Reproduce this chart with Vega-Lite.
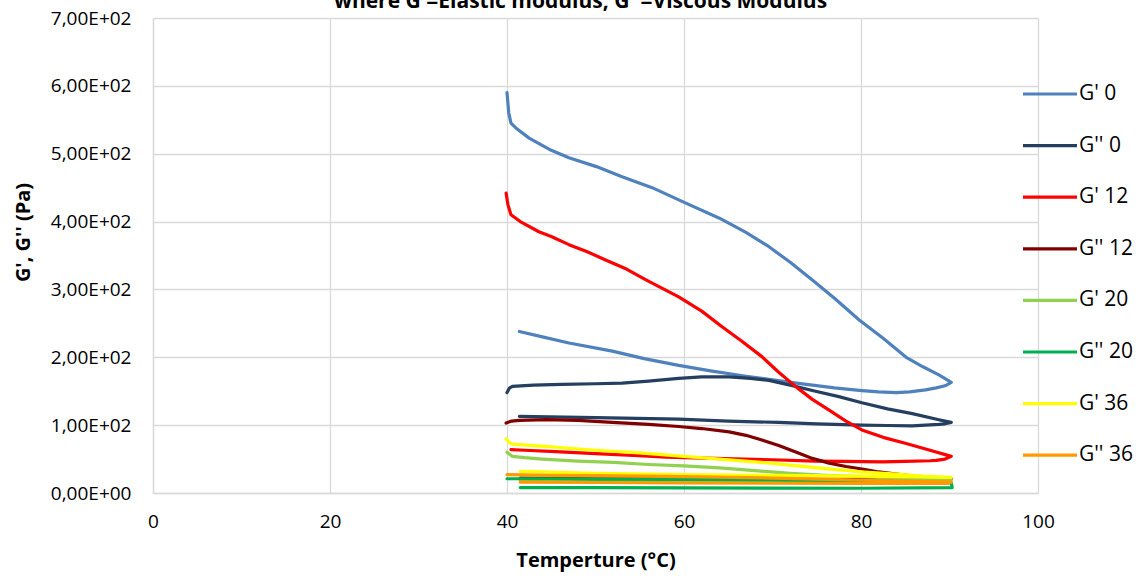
{
  "$schema": "https://vega.github.io/schema/vega-lite/v6.json",
  "width": 885,
  "height": 475,
  "autosize": {"type": "none"},
  "padding": {"left": 153, "top": 18, "right": 109, "bottom": 85},
  "background": "white",
  "title": {
    "text": "where G'=Elastic modulus; G''=Viscous Modulus",
    "font": "Open Sans",
    "fontSize": 21,
    "fontWeight": "bold",
    "color": "#000000",
    "anchor": "middle",
    "frame": "group",
    "baseline": "bottom",
    "offset": 0,
    "dy": 24,
    "dx": -15
  },
  "config": {
    "view": {"stroke": null},
    "font": "Open Sans",
    "axis": {
      "gridColor": "#D9D9D9",
      "gridWidth": 1.3,
      "domainColor": "#D9D9D9",
      "domainWidth": 1.3,
      "ticks": false,
      "labelColor": "#000000",
      "labelFont": "Open Sans",
      "titleFont": "Open Sans",
      "titleFontSize": 20,
      "titleFontWeight": "bold",
      "titleColor": "#000000"
    }
  },
  "data": {
    "values": [
      {"s":"G' 0","t":40.0,"v":590,"o":1},{"s":"G' 0","t":40.2,"v":560,"o":2},{"s":"G' 0","t":40.45,"v":545,"o":3},{"s":"G' 0","t":41.0,"v":538,"o":4},{"s":"G' 0","t":42.5,"v":523,"o":5},{"s":"G' 0","t":45,"v":505,"o":6},{"s":"G' 0","t":47,"v":494,"o":7},{"s":"G' 0","t":50.1,"v":481,"o":8},{"s":"G' 0","t":53,"v":466,"o":9},{"s":"G' 0","t":56.4,"v":450,"o":10},{"s":"G' 0","t":59.9,"v":429,"o":11},{"s":"G' 0","t":64,"v":405,"o":12},{"s":"G' 0","t":67,"v":384,"o":13},{"s":"G' 0","t":69.6,"v":363,"o":14},{"s":"G' 0","t":72,"v":340,"o":15},{"s":"G' 0","t":74.5,"v":314,"o":16},{"s":"G' 0","t":77,"v":287,"o":17},{"s":"G' 0","t":79.8,"v":255,"o":18},{"s":"G' 0","t":82.5,"v":228,"o":19},{"s":"G' 0","t":85.1,"v":200,"o":20},{"s":"G' 0","t":87,"v":186,"o":21},{"s":"G' 0","t":88.8,"v":174,"o":22},{"s":"G' 0","t":90.2,"v":163,"o":23},
      {"s":"G' 0","t":89.5,"v":158,"o":24},{"s":"G' 0","t":88.5,"v":155,"o":25},{"s":"G' 0","t":87.3,"v":152,"o":26},{"s":"G' 0","t":85.5,"v":149,"o":27},{"s":"G' 0","t":84,"v":148,"o":28},{"s":"G' 0","t":82,"v":149,"o":29},{"s":"G' 0","t":80.1,"v":151,"o":30},{"s":"G' 0","t":77,"v":155,"o":31},{"s":"G' 0","t":72.7,"v":162,"o":32},{"s":"G' 0","t":67,"v":172,"o":33},{"s":"G' 0","t":63,"v":180,"o":34},{"s":"G' 0","t":59.4,"v":188,"o":35},{"s":"G' 0","t":55.5,"v":198,"o":36},{"s":"G' 0","t":51.9,"v":209,"o":37},{"s":"G' 0","t":47,"v":221,"o":38},{"s":"G' 0","t":44,"v":230,"o":39},{"s":"G' 0","t":41.4,"v":238,"o":40},

      {"s":"G'' 0","t":40.0,"v":148,"o":1},{"s":"G'' 0","t":40.3,"v":155,"o":2},{"s":"G'' 0","t":40.6,"v":157,"o":3},{"s":"G'' 0","t":43,"v":159,"o":4},{"s":"G'' 0","t":46.2,"v":160,"o":5},{"s":"G'' 0","t":50,"v":161,"o":6},{"s":"G'' 0","t":53,"v":162,"o":7},{"s":"G'' 0","t":56,"v":165,"o":8},{"s":"G'' 0","t":59.4,"v":169,"o":9},{"s":"G'' 0","t":62,"v":171,"o":10},{"s":"G'' 0","t":65.1,"v":171,"o":11},{"s":"G'' 0","t":67.5,"v":169,"o":12},{"s":"G'' 0","t":69.6,"v":166,"o":13},{"s":"G'' 0","t":72,"v":159,"o":14},{"s":"G'' 0","t":74.5,"v":151,"o":15},{"s":"G'' 0","t":77.5,"v":142,"o":16},{"s":"G'' 0","t":80.1,"v":133,"o":17},{"s":"G'' 0","t":83,"v":124,"o":18},{"s":"G'' 0","t":85.8,"v":117,"o":19},{"s":"G'' 0","t":88.8,"v":108,"o":20},{"s":"G'' 0","t":90.2,"v":104,"o":21},
      {"s":"G'' 0","t":89.5,"v":102,"o":22},{"s":"G'' 0","t":88.8,"v":101,"o":23},{"s":"G'' 0","t":85.8,"v":99,"o":24},{"s":"G'' 0","t":83,"v":99.5,"o":25},{"s":"G'' 0","t":80.1,"v":100,"o":26},{"s":"G'' 0","t":75,"v":102,"o":27},{"s":"G'' 0","t":70.7,"v":104,"o":28},{"s":"G'' 0","t":65,"v":106,"o":29},{"s":"G'' 0","t":59.4,"v":109,"o":30},{"s":"G'' 0","t":50,"v":111,"o":31},{"s":"G'' 0","t":41.4,"v":113,"o":32},

      {"s":"G' 12","t":39.9,"v":442,"o":1},{"s":"G' 12","t":40.1,"v":425,"o":2},{"s":"G' 12","t":40.45,"v":410,"o":3},{"s":"G' 12","t":41.5,"v":400,"o":4},{"s":"G' 12","t":43.6,"v":385,"o":5},{"s":"G' 12","t":45,"v":378,"o":6},{"s":"G' 12","t":47,"v":366,"o":7},{"s":"G' 12","t":49,"v":356,"o":8},{"s":"G' 12","t":51.2,"v":343,"o":9},{"s":"G' 12","t":53.5,"v":330,"o":10},{"s":"G' 12","t":55.7,"v":314,"o":11},{"s":"G' 12","t":57.5,"v":302,"o":12},{"s":"G' 12","t":59.4,"v":289,"o":13},{"s":"G' 12","t":62,"v":268,"o":14},{"s":"G' 12","t":64.3,"v":245,"o":15},{"s":"G' 12","t":66.5,"v":224,"o":16},{"s":"G' 12","t":68.8,"v":201,"o":17},{"s":"G' 12","t":70.7,"v":178,"o":18},{"s":"G' 12","t":72.7,"v":156,"o":19},{"s":"G' 12","t":74.5,"v":138,"o":20},{"s":"G' 12","t":76.4,"v":122,"o":21},{"s":"G' 12","t":78.3,"v":106,"o":22},{"s":"G' 12","t":80.1,"v":93,"o":23},{"s":"G' 12","t":82.5,"v":82,"o":24},{"s":"G' 12","t":85.1,"v":73,"o":25},{"s":"G' 12","t":87.5,"v":64,"o":26},{"s":"G' 12","t":90.2,"v":54,"o":27},
      {"s":"G' 12","t":89.5,"v":50,"o":28},{"s":"G' 12","t":88.5,"v":48,"o":29},{"s":"G' 12","t":87.8,"v":47.5,"o":30},{"s":"G' 12","t":85,"v":46.5,"o":31},{"s":"G' 12","t":82.4,"v":46,"o":32},{"s":"G' 12","t":78,"v":46.5,"o":33},{"s":"G' 12","t":74.7,"v":47,"o":34},{"s":"G' 12","t":70,"v":49,"o":35},{"s":"G' 12","t":63.4,"v":51,"o":36},{"s":"G' 12","t":58,"v":53,"o":37},{"s":"G' 12","t":54.9,"v":55,"o":38},{"s":"G' 12","t":50,"v":58,"o":39},{"s":"G' 12","t":45.5,"v":61,"o":40},{"s":"G' 12","t":42,"v":63,"o":41},{"s":"G' 12","t":40.45,"v":64,"o":42},

      {"s":"G'' 12","t":39.9,"v":103,"o":1},{"s":"G'' 12","t":40.5,"v":106,"o":2},{"s":"G'' 12","t":41.4,"v":107,"o":3},{"s":"G'' 12","t":44.4,"v":108,"o":4},{"s":"G'' 12","t":48,"v":107,"o":5},{"s":"G'' 12","t":51.9,"v":104,"o":6},{"s":"G'' 12","t":56,"v":101,"o":7},{"s":"G'' 12","t":59.4,"v":98,"o":8},{"s":"G'' 12","t":62,"v":95,"o":9},{"s":"G'' 12","t":65.1,"v":90,"o":10},{"s":"G'' 12","t":67,"v":85,"o":11},{"s":"G'' 12","t":68.8,"v":78,"o":12},{"s":"G'' 12","t":70.7,"v":70,"o":13},{"s":"G'' 12","t":72.7,"v":60,"o":14},{"s":"G'' 12","t":74.5,"v":51,"o":15},{"s":"G'' 12","t":76.4,"v":44,"o":16},{"s":"G'' 12","t":78.3,"v":39,"o":17},{"s":"G'' 12","t":80.3,"v":35,"o":18},{"s":"G'' 12","t":82,"v":31,"o":19},{"s":"G'' 12","t":84,"v":28,"o":20},{"s":"G'' 12","t":86,"v":25,"o":21},{"s":"G'' 12","t":88,"v":22.5,"o":22},{"s":"G'' 12","t":90.2,"v":21,"o":23},
      {"s":"G'' 12","t":89.5,"v":20.5,"o":24},{"s":"G'' 12","t":85,"v":20,"o":25},{"s":"G'' 12","t":80,"v":20,"o":26},{"s":"G'' 12","t":70,"v":20,"o":27},{"s":"G'' 12","t":60,"v":21,"o":28},{"s":"G'' 12","t":50,"v":21,"o":29},{"s":"G'' 12","t":41.5,"v":22,"o":30},

      {"s":"G' 20","t":40.0,"v":60,"o":1},{"s":"G' 20","t":40.3,"v":57,"o":2},{"s":"G' 20","t":40.6,"v":54,"o":3},{"s":"G' 20","t":42,"v":52,"o":4},{"s":"G' 20","t":44,"v":50,"o":5},{"s":"G' 20","t":48,"v":47,"o":6},{"s":"G' 20","t":52,"v":45,"o":7},{"s":"G' 20","t":56,"v":42,"o":8},{"s":"G' 20","t":60,"v":40,"o":9},{"s":"G' 20","t":64,"v":37,"o":10},{"s":"G' 20","t":68,"v":33,"o":11},{"s":"G' 20","t":72,"v":29,"o":12},{"s":"G' 20","t":76,"v":26,"o":13},{"s":"G' 20","t":80,"v":24,"o":14},{"s":"G' 20","t":84,"v":22,"o":15},{"s":"G' 20","t":87,"v":20.5,"o":16},{"s":"G' 20","t":90.2,"v":19,"o":17},
      {"s":"G' 20","t":89.5,"v":18,"o":18},{"s":"G' 20","t":80,"v":17,"o":19},{"s":"G' 20","t":70,"v":17,"o":20},{"s":"G' 20","t":60,"v":17,"o":21},{"s":"G' 20","t":50,"v":17.5,"o":22},{"s":"G' 20","t":41.5,"v":18,"o":23},

      {"s":"G'' 20","t":40.0,"v":21,"o":1},{"s":"G'' 20","t":45,"v":21,"o":2},{"s":"G'' 20","t":50,"v":20.5,"o":3},{"s":"G'' 20","t":60,"v":20,"o":4},{"s":"G'' 20","t":70,"v":19,"o":5},{"s":"G'' 20","t":80,"v":17,"o":6},{"s":"G'' 20","t":90.2,"v":15,"o":7},
      {"s":"G'' 20","t":90.3,"v":8,"o":8},{"s":"G'' 20","t":80,"v":7,"o":9},{"s":"G'' 20","t":60,"v":7.5,"o":10},{"s":"G'' 20","t":50,"v":8,"o":11},{"s":"G'' 20","t":41.5,"v":8,"o":12},

      {"s":"G' 36","t":39.9,"v":80,"o":1},{"s":"G' 36","t":40.2,"v":75,"o":2},{"s":"G' 36","t":40.6,"v":72,"o":3},{"s":"G' 36","t":45,"v":68,"o":4},{"s":"G' 36","t":50,"v":63,"o":5},{"s":"G' 36","t":55,"v":59,"o":6},{"s":"G' 36","t":60,"v":54,"o":7},{"s":"G' 36","t":64,"v":50,"o":8},{"s":"G' 36","t":68,"v":46,"o":9},{"s":"G' 36","t":72,"v":41,"o":10},{"s":"G' 36","t":76,"v":36,"o":11},{"s":"G' 36","t":80,"v":31,"o":12},{"s":"G' 36","t":84,"v":28,"o":13},{"s":"G' 36","t":87,"v":25,"o":14},{"s":"G' 36","t":90.2,"v":23,"o":15},
      {"s":"G' 36","t":89.5,"v":23,"o":16},{"s":"G' 36","t":85,"v":24,"o":17},{"s":"G' 36","t":80,"v":25,"o":18},{"s":"G' 36","t":70,"v":26,"o":19},{"s":"G' 36","t":60,"v":27,"o":20},{"s":"G' 36","t":50,"v":29,"o":21},{"s":"G' 36","t":44,"v":31,"o":22},{"s":"G' 36","t":41.5,"v":32,"o":23},

      {"s":"G'' 36","t":40.0,"v":27,"o":1},{"s":"G'' 36","t":45,"v":26,"o":2},{"s":"G'' 36","t":50,"v":25.5,"o":3},{"s":"G'' 36","t":60,"v":24,"o":4},{"s":"G'' 36","t":70,"v":22,"o":5},{"s":"G'' 36","t":80,"v":19,"o":6},{"s":"G'' 36","t":90.2,"v":16,"o":7},
      {"s":"G'' 36","t":89.5,"v":14,"o":8},{"s":"G'' 36","t":80,"v":14,"o":9},{"s":"G'' 36","t":70,"v":14.5,"o":10},{"s":"G'' 36","t":60,"v":15,"o":11},{"s":"G'' 36","t":50,"v":15.5,"o":12},{"s":"G'' 36","t":41.5,"v":16,"o":13}
    ]
  },
  "mark": {"type": "line", "strokeWidth": 3.2, "interpolate": "linear", "strokeCap": "round", "strokeJoin": "round"},
  "encoding": {
    "x": {
      "field": "t", "type": "quantitative",
      "scale": {"domain": [0, 100], "nice": false},
      "axis": {"values": [0, 20, 40, 60, 80, 100], "title": "Temperture (°C)", "labelFontSize": 19, "labelPadding": 19, "titlePadding": 19, "labelFlush": false}
    },
    "y": {
      "field": "v", "type": "quantitative",
      "scale": {"domain": [0, 700], "nice": false},
      "axis": {
        "values": [0, 100, 200, 300, 400, 500, 600, 700],
        "title": "G', G'' (Pa)",
        "labelFontSize": 19,
        "labelPadding": 22,
        "titlePadding": 17,
        "titleY": 214,
        "labelFlush": false,
        "labelExpr": "datum.value == 0 ? '0,00E+00' : replace(format(datum.value / 100, '.2f'), '.', ',') + 'E+02'"
      }
    },
    "color": {
      "field": "s", "type": "nominal",
      "scale": {
        "domain": ["G' 0", "G'' 0", "G' 12", "G'' 12", "G' 20", "G'' 20", "G' 36", "G'' 36"],
        "range": ["#4F81BD", "#243F60", "#FF0000", "#800000", "#92D050", "#00B050", "#FFFF00", "#FF9900"]
      },
      "legend": {
        "title": null,
        "orient": "none",
        "legendX": 868,
        "legendY": 47,
        "symbolType": "stroke",
        "symbolSize": 2916,
        "symbolStrokeWidth": 3.2,
        "labelFont": "Open Sans",
        "labelFontSize": 21,
        "labelColor": "#000000",
        "labelOffset": 0,
        "rowPadding": 12.6
      }
    },
    "order": {"field": "o", "type": "quantitative"}
  }
}
